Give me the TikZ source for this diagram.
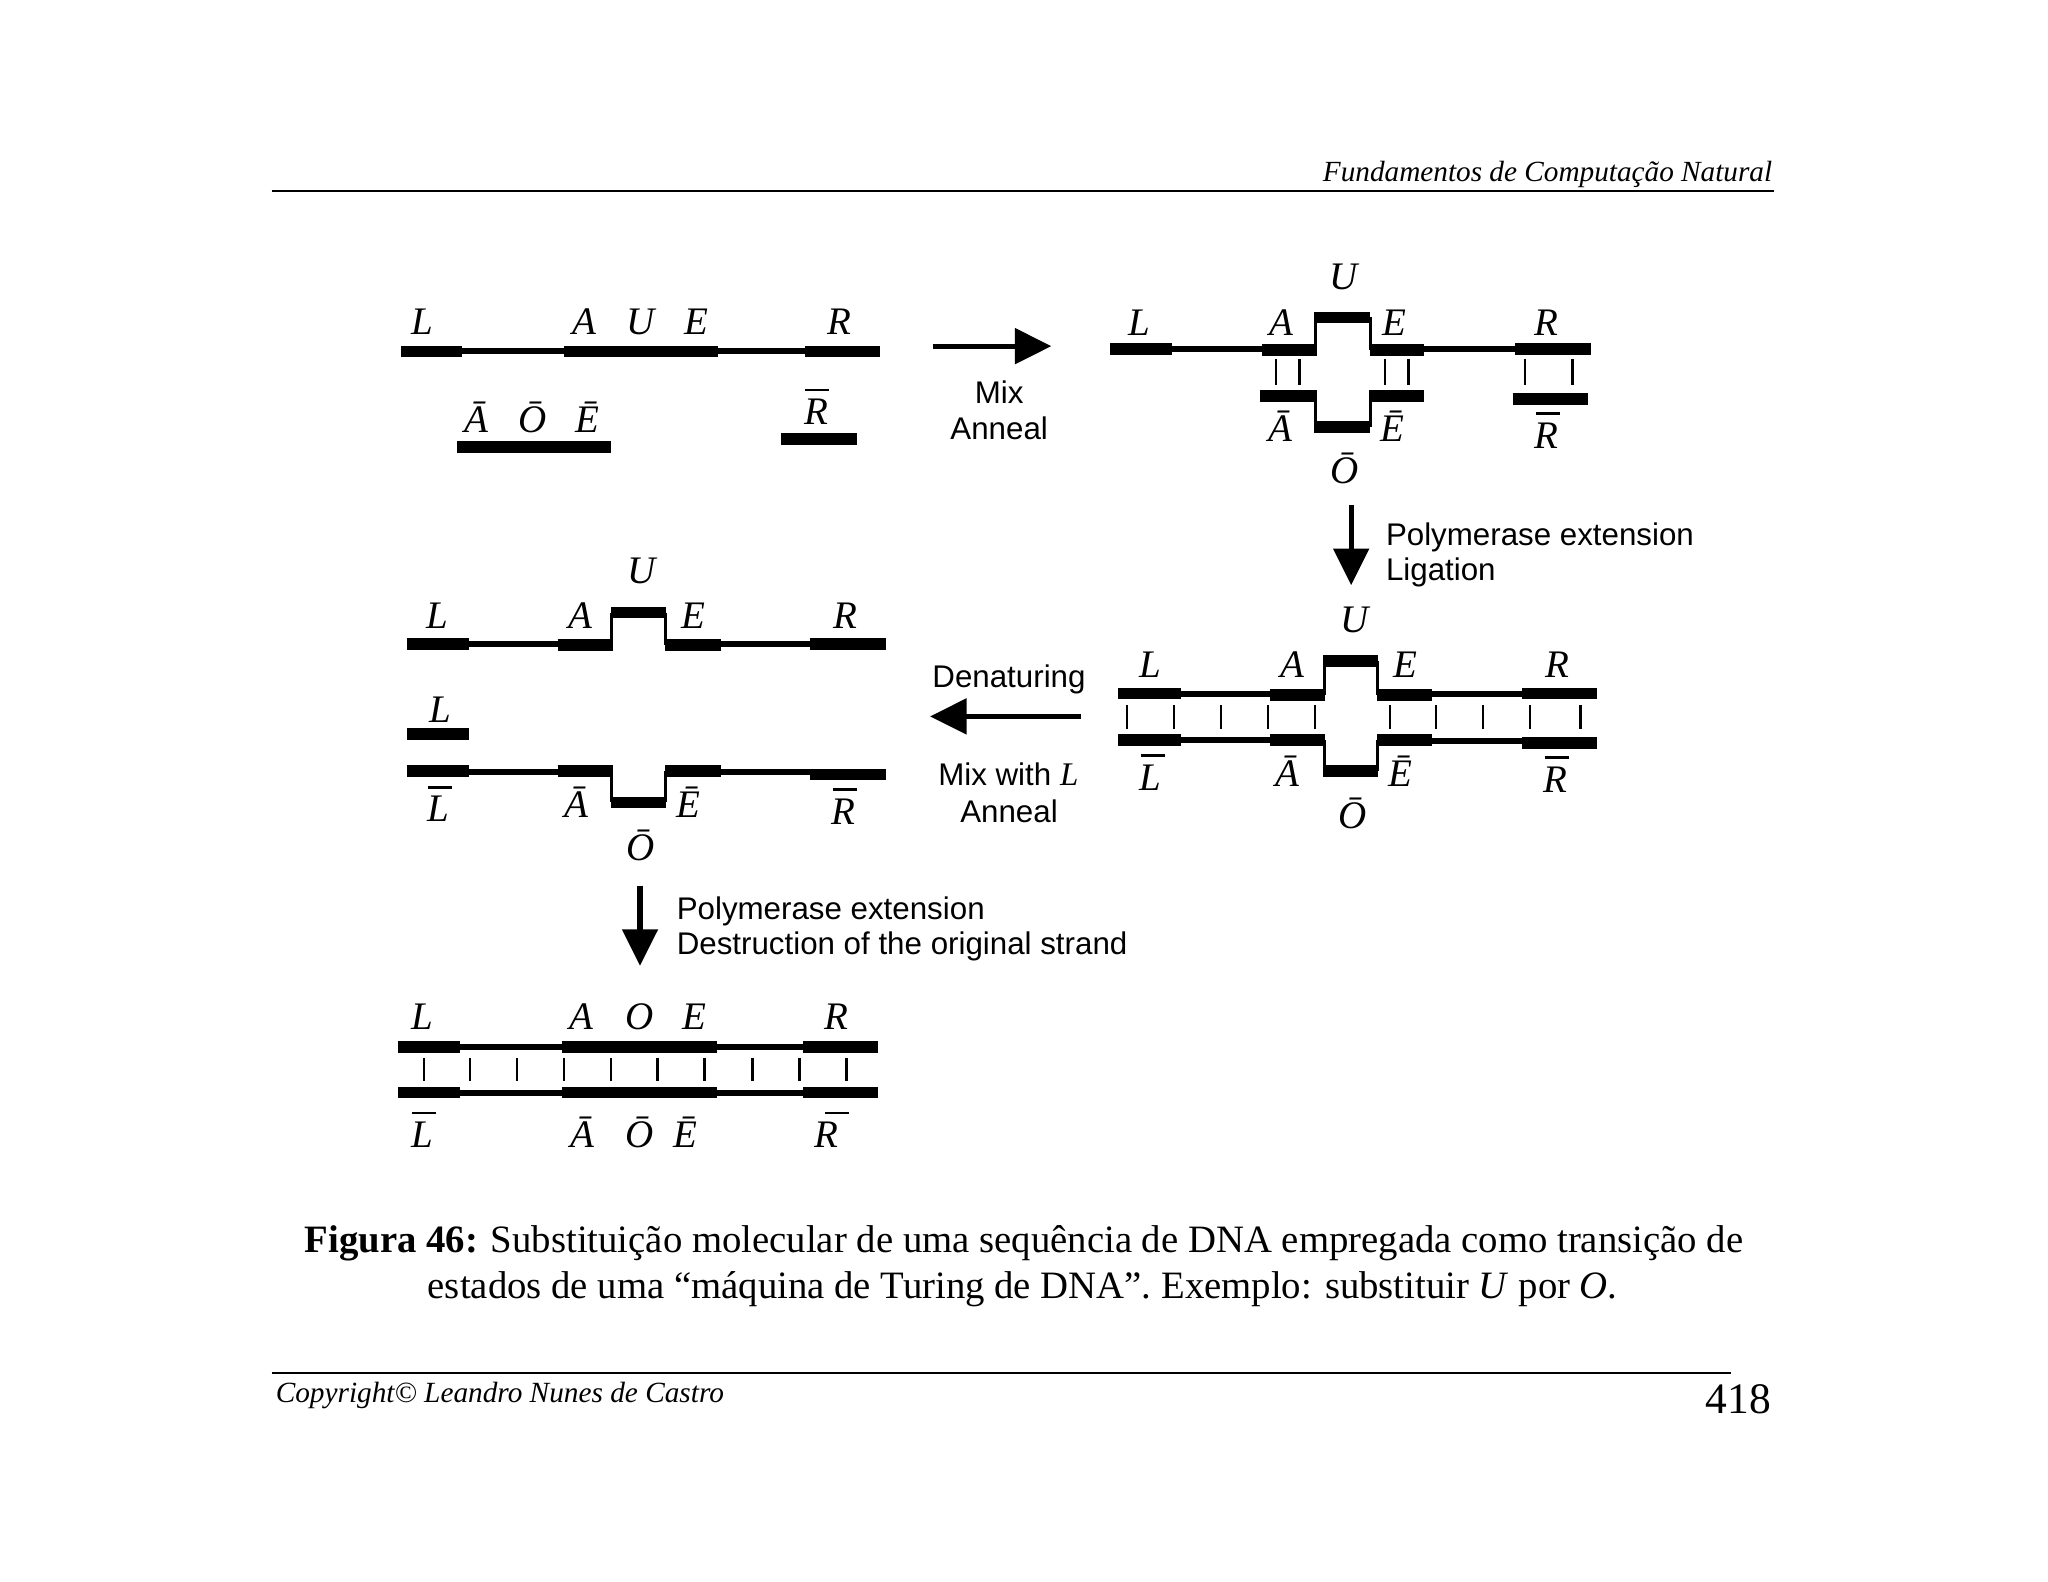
\documentclass[tikz,border=0pt]{standalone}
\usepackage{fontspec}
\setmainfont{Liberation Serif}
\newfontfamily\arialf{Liberation Sans}
\usetikzlibrary{arrows.meta}
\newcommand\ovb[1]{\makebox[0pt][l]{\hspace{1pt}\rule[33pt]{24pt}{2.8pt}}#1}
\newcommand\ovbs[1]{\makebox[0pt][l]{\hspace{11pt}\rule[33pt]{24pt}{2.8pt}}#1}
\newcommand\lab[4]{\node[lbl] (#1) at (#2,#3) {#4};}
\newcommand\sans[4]{\node[sanslbl] (#1) at (#2,#3) {#4};}
\newcommand\sansl[4]{\node[sanslbl,anchor=base west] (#1) at (#2,#3) {#4};}
\tikzset{
  lbl/.style={anchor=base,inner sep=0pt,font=\fontsize{39}{39}\selectfont\itshape},
  sanslbl/.style={anchor=base,inner sep=0pt,font=\fontsize{31.3}{36}\selectfont\arialf},
  thickbar/.style={line width=11.7pt},
  thinbar/.style={line width=6pt},
  rung/.style={line width=2.4pt},
  loopside/.style={line width=3pt},
  bigarrow/.style={line width=5.2pt,-{Triangle[length=36.6pt,width=35pt]}},
  pagerule/.style={line width=1.6pt},
  captionfont/.style={anchor=base,inner sep=0pt,font=\fontsize{38.75}{42}\selectfont},
}
\begin{document}
\begin{tikzpicture}[x=1.3061pt,y=-1.3061pt]
\useasboundingbox (0,0) rectangle (1568,1211);
\fill[white] (0,0) rectangle (1568,1211);

% header
\node[anchor=base east,inner sep=0pt,font=\fontsize{29.25}{30}\selectfont\itshape] (head) at (1357,139) {Fundamentos de Computação Natural};
\coordinate (hr1) at (208,146); \coordinate (hr2) at (1358,146);
\draw[pagerule] (hr1) -- (hr2);

% panel 1
\draw[thickbar] (307,269) -- (354,269);
\draw[thinbar] (354,269) -- (432,269);
\draw[thickbar] (432,269) -- (550,269);
\draw[thinbar] (550,269) -- (616,269);
\draw[thickbar] (616,269) -- (674,269);
\draw[thickbar] (350,342) -- (468,342);
\draw[thickbar] (598,336) -- (656,336);
\lab{pa}{323.5}{256}{L}\lab{pb}{447.5}{256}{A}\lab{pc}{490.5}{256}{U}\lab{pd}{533.5}{256}{E}\lab{pe}{642.5}{256}{R}
\lab{pf}{364.5}{331}{Ā}\lab{pg}{407.5}{331}{Ō}\lab{ph}{449.5}{331}{Ē}\lab{pi}{625}{325}{\ovb{R}}
\coordinate (a1s) at (714,265); \coordinate (a1e) at (805,265);
\draw[bigarrow] (a1s) -- (a1e);
\sans{mix}{765}{308.7}{Mix}\sans{ann}{765}{336.7}{Anneal}

% panel 2
\draw[thickbar] (850,267) -- (897,267);
\draw[thinbar] (897,267.5) -- (966,267.5);
\draw[thickbar] (966,268) -- (1008,268);
\draw[loopside] (1007,268) -- (1007,243);
\draw[thickbar] (1006,243) -- (1049,243);
\draw[loopside] (1049,243) -- (1049,268);
\draw[thickbar] (1049,268) -- (1090,268);
\draw[thinbar] (1090,267.5) -- (1160,267.5);
\draw[thickbar] (1160,267) -- (1218,267);
\foreach \x in {977,995,1060.5,1078.5,1167.5,1204} \draw[rung] (\x,275) -- (\x,295);
\draw[thickbar] (965,303) -- (1008,303);
\draw[loopside] (1007,303) -- (1007,327);
\draw[thickbar] (1006,327) -- (1049,327);
\draw[loopside] (1049,327) -- (1049,303);
\draw[thickbar] (1048,303) -- (1090,303);
\draw[thickbar] (1158,305.5) -- (1216,305.5);
\lab{qa}{872.5}{256.5}{L}\lab{qb}{981}{256.5}{A}\lab{qc}{1028.5}{222}{U}\lab{qd}{1067.5}{256.5}{E}\lab{qe}{1184}{256.5}{R}
\lab{qf}{980}{338}{Ā}\lab{qg}{1066}{338}{Ē}\lab{qh}{1184}{343}{\ovb{R}}\lab{qi}{1029.5}{370.5}{Ō}
\coordinate (a2s) at (1034.5,387); \coordinate (a2e) at (1034.5,448);
\draw[bigarrow] (a2s) -- (a2e);
\sansl{po}{1061}{417.7}{Polymerase extension}\sansl{li}{1061}{444.7}{Ligation}

% panel 3
\draw[thickbar] (856,531) -- (904,531);
\draw[thinbar] (904,531) -- (972,531);
\draw[thickbar] (972,532) -- (1014.5,532);
\draw[loopside] (1014,532) -- (1014,506);
\draw[thickbar] (1013,506) -- (1055,506);
\draw[loopside] (1055,506) -- (1055,532);
\draw[thickbar] (1054.5,532) -- (1096.5,532);
\draw[thinbar] (1096.5,531) -- (1165.5,531);
\draw[thickbar] (1165.5,531) -- (1223,531);
\foreach \x in {863,899,935,971,1007,1064,1099.5,1135.5,1171.5,1210} \draw[rung] (\x,540) -- (\x,558);
\draw[thickbar] (856,566.5) -- (904,566.5);
\draw[thinbar] (904,566.5) -- (972,566.5);
\draw[thickbar] (972,566.5) -- (1014.5,566.5);
\draw[loopside] (1014,566.5) -- (1014,590.5);
\draw[thickbar] (1013,590.5) -- (1055,590.5);
\draw[loopside] (1055,590.5) -- (1055,566.5);
\draw[thickbar] (1054.5,566.5) -- (1096.5,566.5);
\draw[thinbar] (1096.5,567) -- (1165.5,567);
\draw[thickbar] (1165.5,569) -- (1223,569);
\lab{ra}{881}{518.5}{L}\lab{rb}{989.5}{518.5}{A}\lab{rc}{1037}{484}{U}\lab{rd}{1076}{518.5}{E}\lab{re}{1192}{518.5}{R}
\lab{rf}{881}{605}{\ovb{L}}\lab{rg}{986}{602}{Ā}\lab{rh}{1072}{602}{Ē}\lab{ri}{1191}{606.5}{\ovb{R}}\lab{rj}{1035.5}{634}{Ō}

% middle arrow
\coordinate (a3s) at (828,548.5); \coordinate (a3e) at (712,548.5);
\draw[bigarrow] (a3s) -- (a3e);
\sans{den}{772.5}{526}{Denaturing}
\node[sanslbl] (mwl) at (772,601.5) {Mix with {\fontsize{33}{36}\selectfont\rmfamily\itshape L}};
\sans{ann2}{772.5}{629.7}{Anneal}

% panel 4
\draw[thickbar] (311.5,493) -- (359,493);
\draw[thinbar] (359,493) -- (427,493);
\draw[thickbar] (427,494) -- (469,494);
\draw[loopside] (468.5,494) -- (468.5,469);
\draw[thickbar] (468,469) -- (510,469);
\draw[loopside] (509.5,469) -- (509.5,494);
\draw[thickbar] (509.5,494) -- (552,494);
\draw[thinbar] (552,493) -- (620.5,493);
\draw[thickbar] (620.5,493) -- (678.5,493);
\draw[thickbar] (311.5,562) -- (359,562);
\draw[thickbar] (311.5,590.5) -- (359,590.5);
\draw[thinbar] (359,591) -- (427,591);
\draw[thickbar] (427,590.5) -- (469,590.5);
\draw[loopside] (468.5,590) -- (468.5,614);
\draw[thickbar] (468,614.5) -- (510,614.5);
\draw[loopside] (509.5,614) -- (509.5,590);
\draw[thickbar] (509.5,590.5) -- (552,590.5);
\draw[thinbar] (552,591) -- (620.5,591);
\draw[thickbar] (620.5,593) -- (678.5,593);
\lab{sa}{335}{481.5}{L}\lab{sb}{444}{481.5}{A}\lab{sc}{491}{447}{U}\lab{sd}{531}{481.5}{E}\lab{se}{647}{481.5}{R}
\lab{sf}{337}{553.5}{L}
\lab{sg}{335.5}{629}{\ovb{L}}\lab{sh}{441}{626}{Ā}\lab{si}{527}{626}{Ē}\lab{sj}{646}{631}{\ovb{R}}\lab{sk}{490.5}{659}{Ō}
\coordinate (a4s) at (490,678); \coordinate (a4e) at (490,739.5);
\draw[bigarrow] (a4s) -- (a4e);
\sansl{po2}{518}{704}{Polymerase extension}\sansl{de}{518}{731}{Destruction of the original strand}

% panel 5
\foreach \y in {801.5,836.5} {
  \draw[thickbar] (305,\y) -- (352.5,\y);
  \draw[thinbar] (352.5,\y) -- (430,\y);
  \draw[thickbar] (430,\y) -- (549,\y);
  \draw[thinbar] (549,\y) -- (615,\y);
  \draw[thickbar] (615,\y) -- (672.5,\y);
}
\foreach \x in {324.5,360,396,432,468,503.5,539.5,576,612,648} \draw[rung] (\x,810) -- (\x,827.5);
\lab{ta}{323}{788}{L}\lab{tb}{445.5}{788}{A}\lab{tc}{490}{788}{O}\lab{td}{532}{788}{E}\lab{te}{640.5}{788}{R}
\lab{tf}{323}{878.5}{\ovb{L}}\lab{tg}{446}{878.5}{Ā}\lab{th}{489.5}{878.5}{Ō}\lab{ti}{524.5}{878.5}{Ē}\lab{tj}{632.5}{878.5}{\ovbs{R}}

% caption
\node[captionfont] (cap1) at (784,959) {\textbf{Figura 46:} Substituição molecular de uma sequência de DNA empregada como transição de};
\node[captionfont] (cap2) at (783,994) {estados de uma “máquina de Turing de DNA”. Exemplo: substituir \textit{U} por \textit{O}.};

% footer
\coordinate (fr1) at (208,1051); \coordinate (fr2) at (1325,1051);
\draw[pagerule] (fr1) -- (fr2);
\node[anchor=base west,inner sep=0pt,font=\fontsize{29.3}{30}\selectfont\itshape] (copy) at (211,1074) {Copyright© Leandro Nunes de Castro};
\node[anchor=base east,inner sep=0pt,font=\fontsize{43.5}{44}\selectfont] (pg) at (1356,1082) {418};
\end{tikzpicture}
\end{document}
